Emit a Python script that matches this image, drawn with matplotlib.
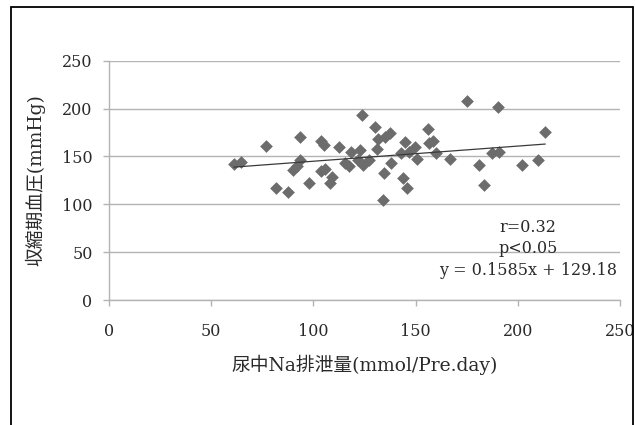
"""Scatter of urinary Na excretion vs systolic BP."""

import matplotlib.pyplot as plt
import numpy as np
from matplotlib.patches import Rectangle

# urinary Na excretion (mmol/Pre.day)
na_excretion = [
    61.3, 64.9, 76.7, 81.9, 87.8, 90.2, 93.4, 93.4, 92.2, 98.1,
    103.6, 105.2, 103.6, 105.6, 108.0, 109.2, 112.7, 115.5, 117.5, 118.3,
    123.8, 123.0, 121.8, 124.2, 127.0, 130.1, 131.3, 131.7, 134.9, 137.3,
    134.5, 134.1, 138.0, 144.0, 145.6, 144.8, 142.8, 146.8, 149.5, 150.7,
    155.9, 156.7, 158.6, 159.8, 166.9, 175.2, 180.8, 183.5, 187.1, 190.3,
    190.7, 202.1, 209.7, 213.2,
]
# systolic blood pressure (mmHg)
systolic_bp = [
    142.0, 143.8, 160.9, 117.3, 113.2, 135.8, 169.9, 146.2, 140.0, 121.9,
    166.1, 161.9, 135.1, 136.5, 122.6, 128.8, 160.2, 143.5, 140.3, 155.0,
    193.2, 156.7, 146.2, 141.0, 146.2, 181.0, 157.4, 167.8, 170.6, 174.1,
    133.0, 104.5, 142.8, 127.1, 116.6, 165.4, 153.2, 155.0, 160.2, 146.9,
    178.3, 163.6, 166.4, 153.2, 146.9, 208.2, 141.0, 119.8, 153.2, 201.3,
    155.0, 140.7, 146.2, 175.1,
]

slope, intercept = 0.1585, 129.18
stats_lines = ["r=0.32", "p<0.05", "y = 0.1585x + 129.18"]

x_ticks = [0, 50, 100, 150, 200, 250]
y_ticks = [0, 50, 100, 150, 200, 250]

serif = ["DejaVu Serif", "Noto Sans CJK JP"]
grid_col = "#b3b3b3"
text_col = "#2a2a2a"

fig = plt.figure(figsize=(6.35, 4.25), dpi=100)
fig.patches.append(Rectangle((11 / 635, -0.1), (633 - 11) / 635, 1 - 7 / 425 + 0.1,
                             transform=fig.transFigure, fill=False,
                             edgecolor="black", lw=1.3))

ax = fig.add_axes([0.171, 0.294, 0.806, 0.563])
x = np.array(na_excretion)
ax.scatter(x, systolic_bp, marker="D", s=42, color="#6c6c6c", zorder=3, linewidths=0)

fx = np.array([x.min(), x.max()])
ax.plot(fx, slope * fx + intercept, color="#3a3a3a", lw=0.9, zorder=4)

ax.set_xlim(0, 250)
ax.set_ylim(0, 250)
ax.set_xticks(x_ticks)
ax.set_yticks(y_ticks)
ax.set_xticklabels([str(t) for t in x_ticks], family=serif, fontsize=11.5)
ax.set_yticklabels([str(t) for t in y_ticks], family=serif, fontsize=11.5)
ax.tick_params(axis="both", colors=grid_col, labelcolor=text_col, length=4.5, width=1)
ax.tick_params(axis="x", pad=12)
ax.tick_params(axis="y", pad=7)
ax.yaxis.grid(True, color=grid_col, lw=1)
ax.set_axisbelow(True)
for side in ("top", "right"):
    ax.spines[side].set_visible(False)
for side in ("left", "bottom"):
    ax.spines[side].set_color(grid_col)
    ax.spines[side].set_linewidth(1)

ax.set_xlabel("尿中Na排泄量(mmol/Pre.day)", family=serif, fontsize=13.5,
              color=text_col, labelpad=11)
ax.set_ylabel("収縮期血圧(mmHg)", family=serif, fontsize=13.5,
              color=text_col, labelpad=12)

for i, (line, yy) in enumerate(zip(stats_lines, [0.305, 0.217, 0.125])):
    ax.text(0.82, yy, line, transform=ax.transAxes,
            ha="center", va="center", family=serif, fontsize=11.5, color=text_col)

fig.savefig("out.png", dpi=100)
plt.close(fig)
